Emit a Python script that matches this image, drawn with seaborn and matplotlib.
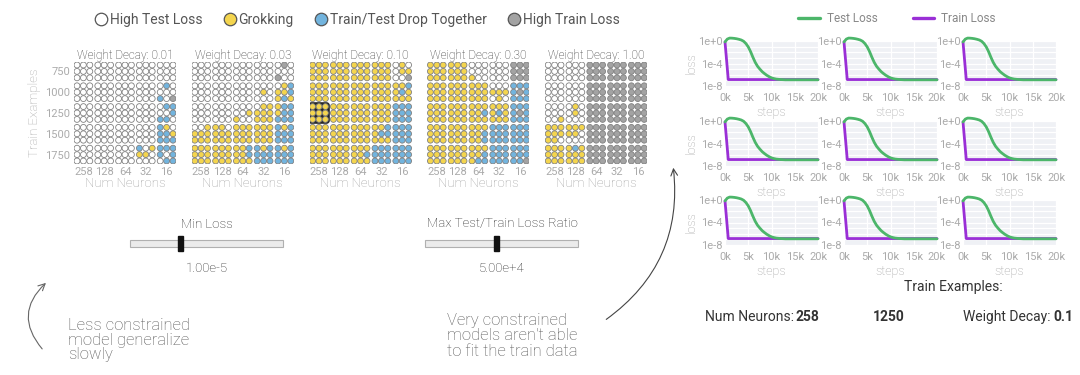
import numpy as np
import pandas as pd
import matplotlib
matplotlib.use("Agg")
import matplotlib.pyplot as plt
import seaborn as sns
from matplotlib.lines import Line2D
from matplotlib.patches import Rectangle, FancyBboxPatch
from matplotlib.ticker import FixedLocator, NullFormatter

sns.set_theme(style="white")
plt.rcParams["font.family"] = ["Roboto", "DejaVu Sans"]

# ── data ────────────────────────────────────────────────────────────────
weight_decays = ["0.01", "0.03", "0.10", "0.30", "1.00"]
num_neurons = ["258", "128", "64", "32", "16"]
train_examples = ["750", "1000", "1250", "1500", "1750"]

status_names = {"w": "High Test Loss", "y": "Grokking",
                "b": "Train/Test Drop Together", "g": "High Train Loss"}
status_colors = {"High Test Loss": "#ffffff", "Grokking": "#f4d54e",
                 "Train/Test Drop Together": "#72b4de", "High Train Loss": "#a3a3a3"}

# each cell = 3x3 seeds, rows of the cell separated by "."
W_ = "www.www.www"
Y_ = "yyy.yyy.yyy"
B_ = "bbb.bbb.bbb"
G_ = "ggg.ggg.ggg"

wd_001 = [
    [W_, W_, W_, W_, W_],
    [W_, W_, W_, W_, "wbw.www.bwg"],
    [W_, W_, W_, W_, "wbb.wwb.bbw"],
    [W_, W_, W_, W_, "byw.bby.bbb"],
    [W_, W_, W_, "bwy.yyw.www", "bbb.bwb.wbb"],
]
wd_003 = [
    [W_, W_, W_, W_, "wgw.www.gww"],
    [W_, W_, W_, "www.wyw.www", "wyb.yyb.yby"],
    [W_, W_, "www.wwy.yww", "wyy.yyy.yyy", "ybb.ybb.bbb"],
    ["wwy.yyy.yyy", "yyw.yyy.yyy", Y_, Y_, "byb.bbb.bbb"],
    [Y_, Y_, "yyb.yyb.yyy", "byb.bbb.bbb", "byb.bbb.bbb"],
]
wd_010 = [
    [Y_, Y_, Y_, Y_, "wyw.wyy.wwg"],
    [Y_, Y_, Y_, Y_, "yyb.yby.yyy"],
    [Y_, Y_, Y_, Y_, B_],
    [Y_, Y_, Y_, "yyb.ybb.yyy", B_],
    [Y_, Y_, "yyy.yyb.yyy", B_, B_],
]
wd_030 = [
    [Y_, Y_, "www.www.yww", W_, G_],
    [Y_, Y_, Y_, "www.yyy.wyw", "bbb.bgb.bbb"],
    [Y_, Y_, "yyy.yyb.yyy", "yyy.yby.yyy", "bbb.bgb.bbb"],
    [Y_, Y_, "yyy.yyb.yyb", B_, B_],
    [Y_, Y_, "yyy.yyb.ybb", B_, "bbb.bbb.bbg"],
]
wd_100 = [
    [W_, W_, G_, G_, G_],
    [W_, W_, G_, G_, G_],
    ["www.www.wwy", "wyw.wyw.www", G_, G_, G_],
    ["yyy.yyy.yyw", "yyy.yyw.www", G_, G_, G_],
    [Y_, "yby.yyy.yyy", G_, G_, G_],
]
panels = [wd_001, wd_003, wd_010, wd_030, wd_100]
selected = (2, 2, 0)  # panel, row, col

steps_test = [0, 500, 1000, 1500, 2000, 2500, 3000, 3500, 4000, 4500, 5000,
              5500, 6000, 6500, 7000, 7500, 8000, 8500, 9000, 9500, 10000,
              10500, 11000, 12000, 13000, 20000]
test_loss = [0.68, 2.2, 3.3, 3.2, 2.9, 2.5, 2.0, 1.5, 0.9, 0.35, 0.09,
             1.3e-2, 1.3e-3, 1.6e-4, 3.2e-5, 1e-5, 3.5e-6, 1.6e-6, 7.9e-7,
             4.5e-7, 2.8e-7, 2.1e-7, 1.7e-7, 1.4e-7, 1.26e-7, 1.26e-7]
steps_train = [0, 700, 20000]
train_loss = [0.68, 1.4e-7, 1.4e-7]

# ── layout helpers ──────────────────────────────────────────────────────
W, H = 1080, 375
fig = plt.figure(figsize=(W / 100, H / 100), dpi=100)


def px_axes(l, t, w, h):
    return fig.add_axes([l / W, 1 - (t + h) / H, w / W, h / H])


overlay = px_axes(0, 0, W, H)
overlay.set_xlim(0, W)
overlay.set_ylim(H, 0)
overlay.axis("off")

# ── dot grids ───────────────────────────────────────────────────────────
P, q = 20.8, 6.4
for k, (wd, rows) in enumerate(zip(weight_decays, panels)):
    recs = []
    for r, row in enumerate(rows):
        for c, cell in enumerate(row):
            code = cell.replace(".", "")
            for i, ch in enumerate(code):
                recs.append({"x": c * P + 3 + (i % 3) * q,
                             "y": r * P + 3 + (i // 3) * q,
                             "status": status_names[ch]})
    df = pd.DataFrame(recs)
    ax = px_axes(74 + k * 117.8, 62, 102, 102)
    if k == selected[0]:
        r, c = selected[1], selected[2]
        ax.add_patch(FancyBboxPatch((c * P + 0.2, r * P + 0.2), 18.4, 18.4,
                                    boxstyle="round,pad=0.9,rounding_size=2.5",
                                    fc="#262626", ec="#262626", zorder=0.5))
    sns.scatterplot(data=df, x="x", y="y", hue="status", palette=status_colors,
                    s=18, edgecolor="#808080", linewidth=0.6, legend=False,
                    ax=ax, zorder=2)
    ax.set_xlim(0, 102)
    ax.set_ylim(102, 0)
    for s in ax.spines.values():
        s.set_visible(False)
    ax.set_facecolor("none")
    ax.set_xticks([c * P + 9.4 for c in range(5)])
    ax.set_xticklabels(num_neurons)
    ax.tick_params(length=0, pad=2.5, labelsize=8, labelcolor="#ababab")
    ax.set_xlabel("Num Neurons", fontsize=9.5, color="#a0a0a0", labelpad=0,
                  fontweight="light")
    ax.set_title(f"Weight Decay: {wd}", fontsize=8.5, color="#333333", pad=2,
                 fontweight="light")
    if k == 0:
        ax.set_yticks([r * P + 9.4 for r in range(5)])
        ax.set_yticklabels(train_examples)
        ax.set_ylabel("Train Examples", fontsize=9.5, color="#a8a8a8",
                      labelpad=3, fontweight="light")
    else:
        ax.set_yticks([])
        ax.set_ylabel("")

# top legend
handles = [Line2D([0], [0], marker="o", lw=0, ms=9, markerfacecolor=status_colors[n],
                  markeredgecolor="#555555", markeredgewidth=0.9)
           for n in status_colors]
leg = fig.legend(handles, list(status_colors), loc="center",
                 bbox_to_anchor=(357 / W, 1 - 20 / H), ncol=4, frameon=False,
                 fontsize=10, handletextpad=0.1, columnspacing=1.5,
                 handlelength=1.0)
for t in leg.get_texts():
    t.set_color("#555555")

# ── sliders ─────────────────────────────────────────────────────────────
sliders = [("Min Loss", "1.00e-5", 130, 180), ("Max Test/Train Loss Ratio", "5.00e+4", 425, 496)]
for label, val, x0, hx in sliders:
    overlay.add_patch(Rectangle((x0, 239.5), 153, 7, fc="#ebebeb", ec="#b0b0b0", lw=0.8))
    overlay.add_patch(Rectangle((hx - 2.5, 236), 5, 15, fc="#111111", ec="#111111"))
    overlay.text(x0 + 77, 224, label, ha="center", va="center", fontsize=9.5,
                 color="#222222", fontweight="light")
    overlay.text(x0 + 77, 268, val, ha="center", va="center", fontsize=9.5,
                 color="#222222", fontweight="light")

# ── annotations ─────────────────────────────────────────────────────────
overlay.text(68, 340, "Less constrained\nmodel generalize\nslowly", ha="left",
             va="center", fontsize=12, color="#555555", linespacing=1.0,
             fontweight="light")
overlay.text(447, 336, "Very constrained\nmodels aren't able\nto fit the train data",
             ha="left", va="center", fontsize=12, color="#555555", linespacing=1.0,
             fontweight="light")
overlay.annotate("", xy=(48, 281), xytext=(44, 351),
                 arrowprops=dict(arrowstyle="->", color="#666666", lw=0.8,
                                 connectionstyle="arc3,rad=-0.5"))
overlay.annotate("", xy=(673, 165), xytext=(604, 321),
                 arrowprops=dict(arrowstyle="->", color="#444444", lw=0.8,
                                 connectionstyle="arc3,rad=0.3"))

# ── loss curves small multiples ─────────────────────────────────────────
loss_df = pd.concat([
    pd.DataFrame({"step": steps_train, "loss": train_loss, "kind": "Train Loss"}),
    pd.DataFrame({"step": steps_test, "loss": test_loss, "kind": "Test Loss"}),
])
line_colors = {"Test Loss": "#4cb66a", "Train Loss": "#9a2fd6"}
cols_left = [725, 844, 963]
rows_top = [41, 121, 200]
for ri, top in enumerate(rows_top):
    for ci, left in enumerate(cols_left):
        ax = px_axes(left, top, 93, 45)
        ax.set_facecolor("#eff1f5")
        sns.lineplot(data=loss_df, x="step", y="loss", hue="kind",
                     hue_order=["Train Loss", "Test Loss"], palette=line_colors,
                     estimator=None, lw=2, legend=False, ax=ax)
        for ln in ax.lines:
            ln.set_clip_on(False)
        ax.set_yscale("log")
        ax.set_ylim(1e-8, 1)
        ax.set_xlim(0, 20000)
        ax.set_yticks([1, 1e-4, 1e-8])
        ax.set_yticklabels(["1e+0", "1e-4", "1e-8"])
        ax.yaxis.set_minor_locator(FixedLocator([10.0 ** -e for e in range(1, 8)]))
        ax.yaxis.set_minor_formatter(NullFormatter())
        ax.set_xticks([0, 5000, 10000, 15000, 20000])
        ax.set_xticklabels(["0k", "5k", "10k", "15k", "20k"])
        ax.tick_params(which="both", length=0, labelsize=8, labelcolor="#ababab")
        ax.tick_params(axis="x", pad=5)
        ax.tick_params(axis="y", pad=2)
        ax.grid(True, which="both", color="white", lw=0.9)
        for s in ax.spines.values():
            s.set_visible(False)
        ax.set_xlabel("steps", fontsize=9, color="#a0a0a0", labelpad=2.5,
                      fontweight="light")
        if ci == 0:
            ax.set_ylabel("loss", fontsize=9, color="#a0a0a0", labelpad=0,
                          fontweight="light")
        else:
            ax.set_ylabel("")

lhandles = [Line2D([0], [0], color=line_colors[n], lw=2.4) for n in ["Test Loss", "Train Loss"]]
leg2 = fig.legend(lhandles, ["Test Loss", "Train Loss"], loc="center",
                  bbox_to_anchor=(897 / W, 1 - 19 / H), ncol=2, frameon=False,
                  fontsize=8.5, handlelength=1.8, handletextpad=0.6, columnspacing=3.0)
for t in leg2.get_texts():
    t.set_color("#888888")

overlay.text(953, 287, "Train Examples:", ha="center", va="center", fontsize=10,
             color="#333333")
bottom_texts = [(705, "Num Neurons:", 796, "258"), (None, None, 873, "1250"),
                (963, "Weight Decay:", 1053, "0.1")]
for lx, lab, vx, val in bottom_texts:
    if lab:
        overlay.text(lx, 317, lab, ha="left", va="center", fontsize=10, color="#333333")
    overlay.text(vx, 317, val, ha="left", va="center", fontsize=10,
                 color="#333333", fontweight="bold")

fig.savefig("out.png", dpi=100)
